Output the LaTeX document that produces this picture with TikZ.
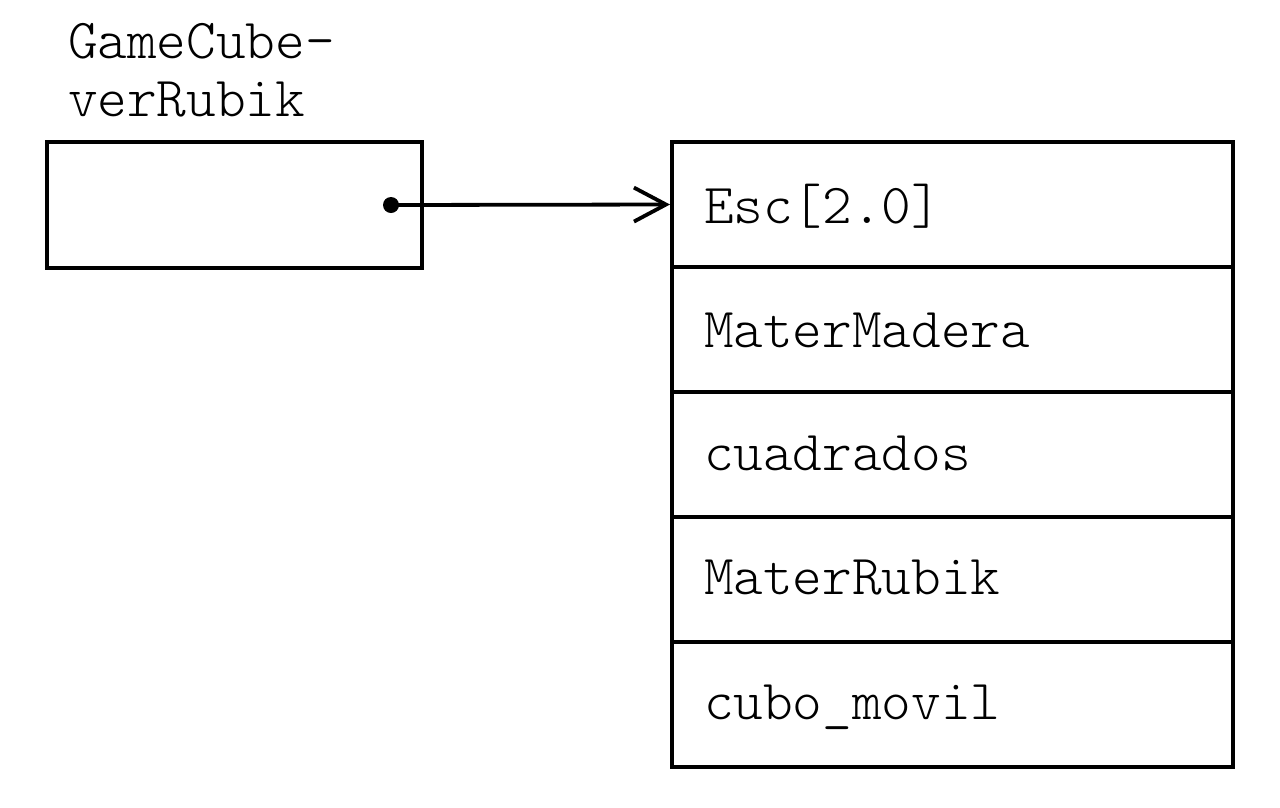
\documentclass[tikz,border=0pt]{standalone}
\usepackage{fontspec}
\setmonofont{Latin Modern Mono Light}
\usetikzlibrary{arrows.meta}
\begin{document}
\begin{tikzpicture}[x=1pt,y=-1pt,
  txt/.style={anchor=base west,inner sep=0pt,outer sep=0pt,font=\fontsize{56.5}{60}\selectfont\ttfamily},
  cell/.style={draw,line width=3.6pt,minimum width=561pt,minimum height=125pt,inner sep=0pt,outer sep=0pt},
  refbox/.style={draw,line width=3.6pt,minimum width=375pt,minimum height=126pt,inner sep=0pt,outer sep=0pt},
  ptr/.style={line width=3.8pt,-{Straight Barb[length=32pt,width=34pt,line width=3.8pt]},shorten >=2pt}
]
\useasboundingbox (0,0) rectangle (1280,807);
\node[txt] (l1) at (68,58) {GameCube-};
\node[txt] (l2) at (68,116) {verRubik};
\node[refbox] (ref) at (234.5,205) {};
\node[cell] (r1) at (952.5,204.5) {};
\node[cell] (r2) at (952.5,329.5) {};
\node[cell] (r3) at (952.5,454.5) {};
\node[cell] (r4) at (952.5,579.5) {};
\node[cell] (r5) at (952.5,704.5) {};
\node[txt] (t1) at (704,223) {Esc[2.0]};
\node[txt] (t2) at (704,347) {MaterMadera};
\node[txt] (t3) at (704,470) {cuadrados};
\node[txt] (t4) at (704,594) {MaterRubik};
\node[txt] (t5) at (704,719) {cubo\_movil};
\node[circle,fill,inner sep=0pt,minimum size=16pt] (dot) at (391,205) {};
\draw[ptr] (dot.center) -- (r1.west);
\end{tikzpicture}
\end{document}
